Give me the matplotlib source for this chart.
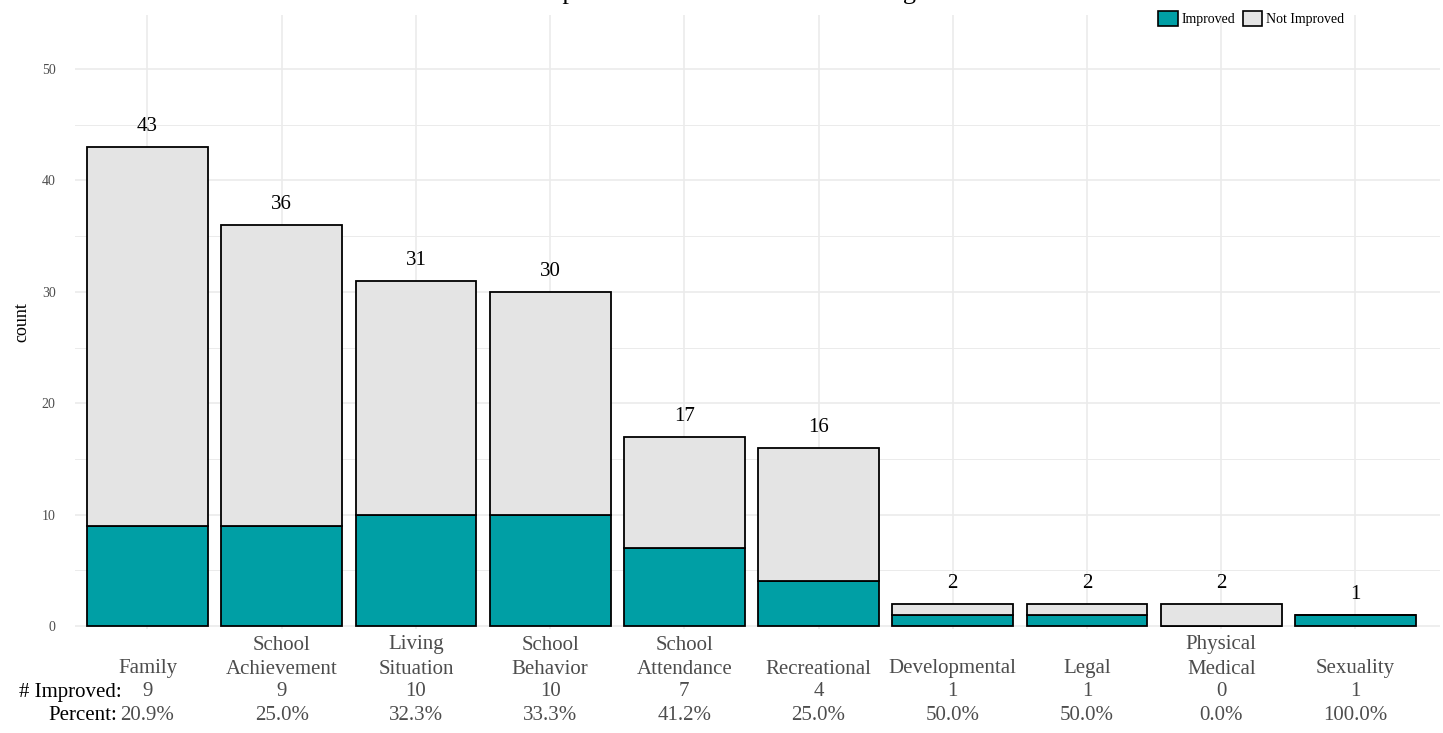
import matplotlib.pyplot as plt
import matplotlib.transforms as mtransforms
from matplotlib.patches import Patch
import numpy as np

plt.rcParams['font.family'] = ['Liberation Serif', 'DejaVu Serif']

# data
categories = ['Family', 'School\nAchievement', 'Living\nSituation', 'School\nBehavior',
              'School\nAttendance', 'Recreational', 'Developmental', 'Legal',
              'Physical\nMedical', 'Sexuality']
improved = [9, 9, 10, 10, 7, 4, 1, 1, 0, 1]
totals = [43, 36, 31, 30, 17, 16, 2, 2, 2, 1]
percents = ['20.9%', '25.0%', '32.3%', '33.3%', '41.2%', '25.0%', '50.0%', '50.0%', '0.0%', '100.0%']

not_improved = [t - i for t, i in zip(totals, improved)]
teal = '#009FA5'
grey = '#E4E4E4'

fig = plt.figure(figsize=(14.43, 7.33), dpi=100)
ax = fig.add_axes([75/1443, 1 - 629/733, (1440-75)/1443, (629-15)/733])
x = np.arange(len(categories))

ax.bar(x, improved, width=0.9, color=teal, edgecolor='black', linewidth=1.3, zorder=3)
ax.bar(x, not_improved, bottom=improved, width=0.9, color=grey, edgecolor='black',
       linewidth=1.3, zorder=3)

for xi, t in zip(x, totals):
    ax.text(xi, t + 1.8, str(t), ha='center', va='center', fontsize=15, color='black')

ax.set_xlim(-0.54, 9.63)
ax.set_ylim(-0.27, 54.85)
ax.set_yticks([0, 10, 20, 30, 40, 50])
ax.set_yticks([5, 15, 25, 35, 45], minor=True)
ax.set_xticks(x)
ax.set_xticklabels([])
ax.grid(True, which='major', color='#EBEBEB', linewidth=1.2, zorder=0)
ax.grid(True, which='minor', axis='y', color='#EBEBEB', linewidth=0.7, zorder=0)
ax.tick_params(axis='both', which='both', length=0)
ax.tick_params(axis='y', labelsize=10, labelcolor='#4D4D4D', pad=14)
for s in ax.spines.values():
    s.set_visible(False)
ax.set_ylabel('count', fontsize=13, labelpad=8)

# category labels under the bars
trans = mtransforms.blended_transform_factory(ax.transData, fig.transFigure)
row_y = [645, 669, 692, 716]
for xi, cat, n, p in zip(x, categories, improved, percents):
    parts = cat.split('\n')
    if len(parts) == 1:
        parts = [''] + parts
    lines = parts + [str(n), p]
    for ly, txt in zip(row_y, lines):
        if txt:
            ax.text(xi, 1 - ly/733, txt, transform=trans, ha='center', va='center',
                    fontsize=15, color='#4D4D4D')

fig.text(122/1443, 1 - 692/733, '# Improved:', ha='right', va='center', fontsize=15)
fig.text(117/1443, 1 - 716/733, 'Percent:', ha='right', va='center', fontsize=15)

# title sits mostly above the canvas, as in the reference
fig.text(765/1443, 1 + 1/733, 'Improvement in Need Areas Among Clients', ha='center',
         va='baseline', fontsize=19)

handles = [Patch(facecolor=teal, edgecolor='black', linewidth=1.2, label='Improved'),
           Patch(facecolor=grey, edgecolor='black', linewidth=1.2, label='Not Improved')]
fig.legend(handles=handles, loc='upper right', bbox_to_anchor=(1350/1443, 1 - 5/733),
           ncol=2, frameon=False, fontsize=10, handlelength=1.4, handleheight=1.3,
           handletextpad=0.3, columnspacing=0.5, borderaxespad=0)

fig.savefig('out.png', dpi=100)
